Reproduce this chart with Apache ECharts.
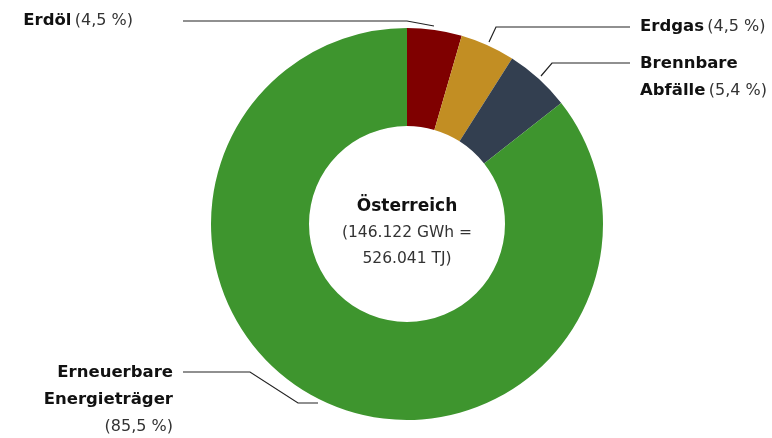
<!DOCTYPE html>
<html><head><meta charset="utf-8">
<script src="https://cdn.jsdelivr.net/npm/echarts@6/dist/echarts.min.js"></script>
<style>html,body{margin:0;padding:0;background:#fff}#c{width:772px;height:438px}</style>
</head><body><div id="c"></div>
<script>
const categories = ['Erdöl', 'Erdgas', 'Brennbare Abfälle', 'Erneuerbare Energieträger'];
const labelTexts = ['{b|Erdöl} {n|(4,5 %)}', '{b|Erdgas} {n|(4,5 %)}', '{b|Brennbare}\n{b|Abfälle} {n|(5,4 %)}', '{b|Erneuerbare}\n{b|Energieträger}\n{n|(85,5 %)}'];
const values = [4.5, 4.5, 5.4, 85.5];
const colors = ['#7f0000', '#c28e23', '#333f50', '#3e952e'];
const centerTitle = 'Österreich';
const centerSub = ['(146.122 GWh =', '526.041 TJ)'];

const FONT = '"DejaVu Sans"';
const layouts = [
  {x: 133, y: 21, align: 'right', va: 'middle', pts: [[434, 26], [407, 21], [183, 21]]},
  {x: 640, y: 27, align: 'left', va: 'middle', pts: [[489, 42], [496, 27], [630, 27]]},
  {x: 640, y: 50, align: 'left', va: 'top', pts: [[541, 76], [552, 63], [630, 63]]},
  {x: 173, y: 359, align: 'right', va: 'top', pts: [[183, 372], [250, 372], [298, 403], [318, 403]]}
];

const chart = echarts.init(document.getElementById('c'));
chart.setOption({
  animation: false,
  title: {
    text: '{t|' + centerTitle + '}\n{s|' + centerSub[0] + '}\n{s|' + centerSub[1] + '}',
    left: 402, top: 189, textAlign: 'center',
    textStyle: {
      fontWeight: 'normal',
      rich: {
        t: {fontFamily: FONT, fontWeight: 'bold', fontSize: 17, color: '#111', lineHeight: 26, align: 'center'},
        s: {fontFamily: FONT, fontWeight: 'normal', fontSize: 15.5, color: '#333', lineHeight: 26, align: 'center'}
      }
    }
  },
  series: [{
    type: 'pie',
    center: [407, 224],
    radius: [98, 196],
    startAngle: 90,
    clockwise: true,
    data: categories.map((c, i) => ({name: c, value: values[i], itemStyle: {color: colors[i]}})),
    label: {
      show: true,
      position: 'outside',
      formatter: p => labelTexts[p.dataIndex],
      rich: {
        b: {fontFamily: FONT, fontWeight: 'bold', fontSize: 16.5, color: '#111', lineHeight: 27},
        n: {fontFamily: FONT, fontWeight: 'normal', fontSize: 16, color: '#333', lineHeight: 27}
      }
    },
    labelLine: {show: true, lineStyle: {color: '#222', width: 1.2}},
    labelLayout: p => {
      const l = layouts[p.dataIndex];
      return {x: l.x, y: l.y, align: l.align, verticalAlign: l.va, labelLinePoints: l.pts};
    },
    emphasis: {disabled: true}
  }]
});
</script></body></html>
